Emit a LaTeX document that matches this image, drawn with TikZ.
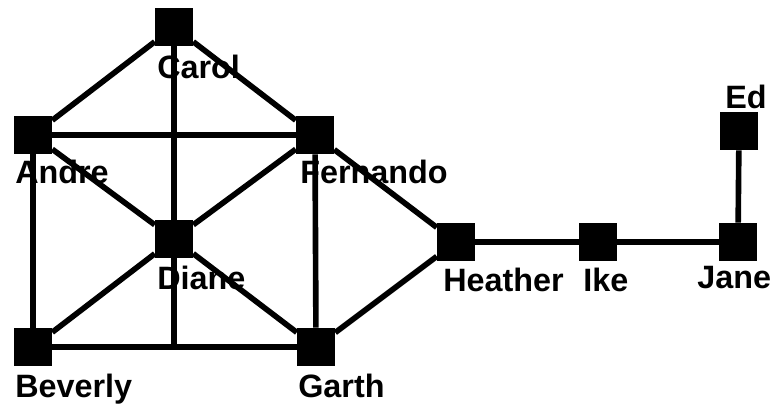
\documentclass[tikz,border=0pt]{standalone}
\usepackage{fontspec}
\setmainfont{Liberation Sans}
\tikzset{
  person/.style={fill=black,minimum size=0.95cm,inner sep=0pt},
  tie/.style={line width=4pt},
  who/.style={anchor=north west,inner sep=0pt,font=\bfseries\fontsize{23}{26}\selectfont}
}
\begin{document}
\begin{tikzpicture}[x=0.025cm,y=-0.025cm]
  \useasboundingbox (0,0) rectangle (772,405);
  % the ties
  \coordinate (base) at (174,347);
  \node[person] (carol) at (174,27) {};
  \node[person] (andre) at (33,135) {};
  \node[person] (fernando) at (315,135) {};
  \node[person] (diane) at (174,239) {};
  \node[person] (beverly) at (33,347) {};
  \node[person] (garth) at (316,347) {};
  \node[person] (heather) at (456,242) {};
  \node[person] (ike) at (598,242) {};
  \node[person] (jane) at (738,242) {};
  \node[person] (ed) at (739,131) {};
  \draw[tie] (carol) -- (andre);
  \draw[tie] (carol) -- (fernando);
  \draw[tie] (carol) -- (diane) -- (base);
  \draw[tie] (andre) -- (fernando);
  \draw[tie] (andre) -- (diane);
  \draw[tie] (andre) -- (beverly);
  \draw[tie] (fernando) -- (diane);
  \draw[tie] (fernando) -- (garth);
  \draw[tie] (fernando) -- (heather);
  \draw[tie] (diane) -- (beverly);
  \draw[tie] (diane) -- (garth);
  \draw[tie] (beverly) -- (garth);
  \draw[tie] (garth) -- (heather);
  \draw[tie] (heather) -- (ike);
  \draw[tie] (ike) -- (jane);
  \draw[tie] (jane) -- (ed);
  % the names
  \node[who] (carol-name) at (157,55) {Carol};
  \node[who] (andre-name) at (15,160) {Andre};
  \node[who] (fernando-name) at (300,160) {Fernando};
  \node[who] (diane-name) at (157,266) {Diane};
  \node[who] (beverly-name) at (15,374) {Beverly};
  \node[who] (garth-name) at (298,374) {Garth};
  \node[who] (heather-name) at (443,268) {Heather};
  \node[who] (ike-name) at (583,268) {Ike};
  \node[who] (jane-name) at (697,266) {Jane};
  \node[who] (ed-name) at (725,85) {Ed};
\end{tikzpicture}
\end{document}
